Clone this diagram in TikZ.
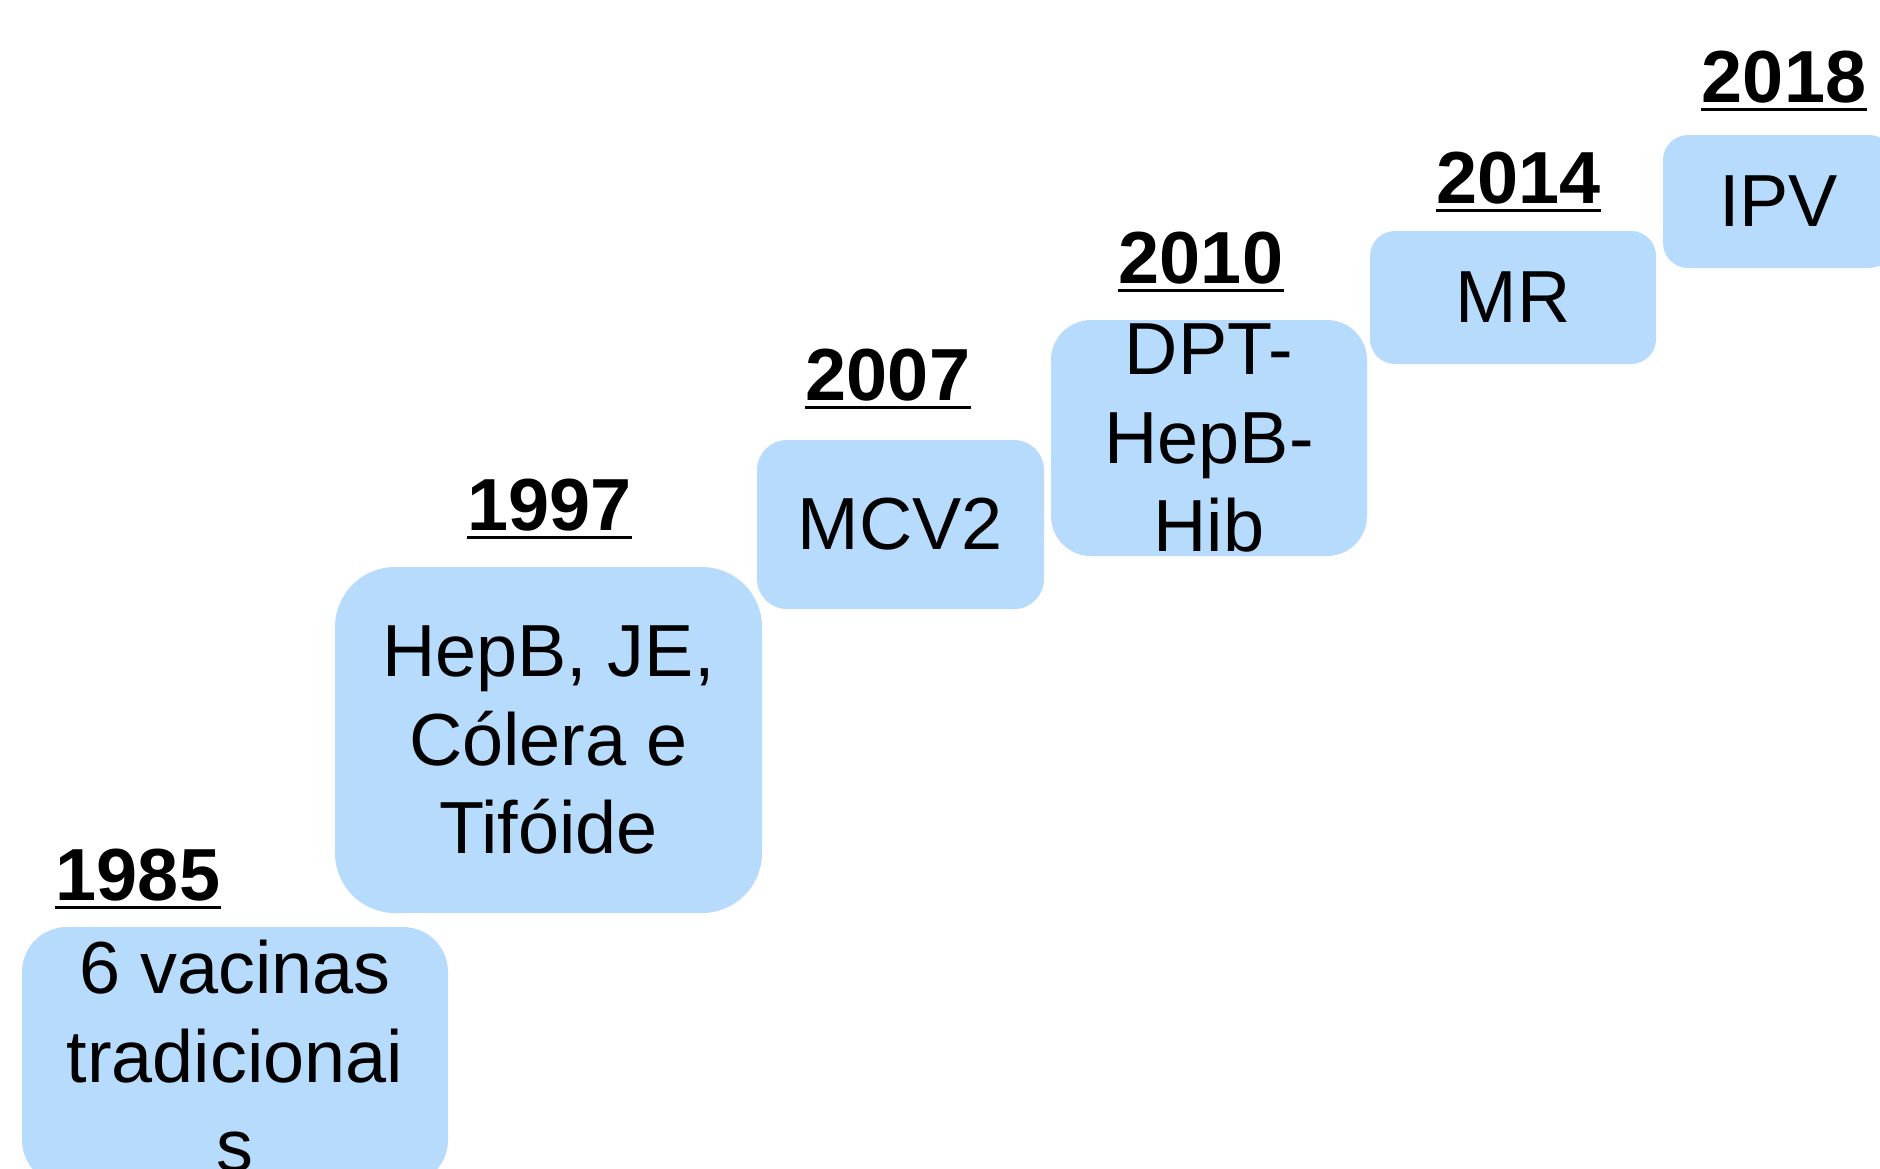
\documentclass[tikz,border=0pt]{standalone}
\usepackage{fontspec}
\setmainfont{Liberation Sans}
\usepackage{tikz}
\usetikzlibrary{calc,
                positioning}
\definecolor{vacblue}{RGB}{183,219,253}
\tikzstyle{vacbox} = [rectangle, fill=vacblue, inner sep=0pt, align=center, font=\fontsize{21}{25.3}\selectfont]
\tikzstyle{year} = [inner sep=0pt, anchor=base, font=\fontsize{21}{25.3}\selectfont\bfseries]
\tikzstyle{uline} = [line width=0.85pt]

\begin{document}
\begin{tikzpicture}
\useasboundingbox (0,0) rectangle (18.8,-11.68);
\clip (0,0) rectangle (18.8,-11.68);
% boxes, one per step of the stair
\node (b1985) [vacbox, rounded corners=0.45cm, minimum width=4.26cm, minimum height=2.58cm] at (2.35,-10.56) {6 vacinas\\tradicionai\\s};
\node (b1997) [vacbox, rounded corners=0.6cm, minimum width=4.27cm, minimum height=3.46cm] at (5.485,-7.40) {HepB, JE,\\Cólera e\\Tifóide};
\node (b2007) [vacbox, rounded corners=0.3cm, minimum width=2.87cm, minimum height=1.69cm] at (9.005,-5.245) {MCV2};
\node (b2010) [vacbox, rounded corners=0.4cm, minimum width=3.16cm, minimum height=2.36cm] at (12.09,-4.38) {DPT-\\HepB-\\Hib};
\node (b2014) [vacbox, rounded corners=0.25cm, minimum width=2.86cm, minimum height=1.33cm] at (15.13,-2.975) {MR};
\node (b2018) [vacbox, rounded corners=0.25cm, minimum width=2.31cm, minimum height=1.33cm] at (17.785,-2.015) {IPV};
% years
\node (y1985) [year] at (1.38,-9.00) {1985};
\node (y1997) [year] at (5.495,-5.30) {1997};
\node (y2007) [year] at (8.88,-4.00) {2007};
\node (y2010) [year] at (12.01,-2.83) {2010};
\node (y2014) [year] at (15.185,-2.03) {2014};
\node (y2018) [year] at (17.84,-1.02) {2018};
\foreach \y in {y1985,y1997,y2007,y2010,y2014,y2018}
    \draw [uline] ($(\y.base west)+(0,-0.075)$) -- ($(\y.base east)+(0,-0.075)$);
\end{tikzpicture}
\end{document}
